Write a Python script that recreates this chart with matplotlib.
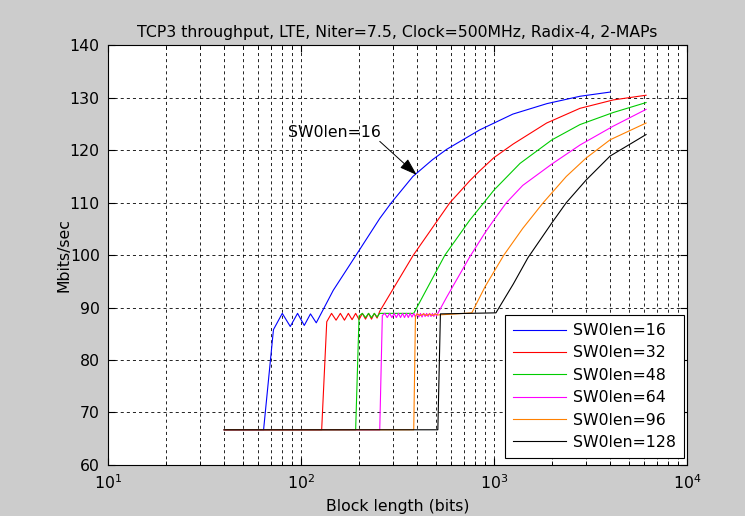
import matplotlib
matplotlib.use("Agg")
import matplotlib.pyplot as plt
from matplotlib.ticker import LogLocator

plt.rcParams['font.family'] = ['DejaVu Sans']
plt.rcParams['mathtext.default'] = 'regular'
plt.rcParams['lines.scale_dashes'] = False

FS = 11.3

# values (block length in bits, throughput in Mbits/sec)
x16 = [40, 64, 72, 80, 88, 96, 104, 112, 120, 147, 193, 256, 294, 380, 480, 570, 845,
       1253, 1883, 2791, 4000]
y16 = [66.7, 66.7, 85.8, 88.9, 86.4, 88.9, 86.6, 88.8, 87.1, 93.3, 100.0, 107.0, 110.0,
       115.0, 118.2, 120.2, 123.9, 126.9, 128.9, 130.3, 131.1]

x32 = [40, 128, 136, 144, 152, 160, 168, 176, 184, 192, 200, 208, 216, 224, 232, 240,
       248, 256, 382, 591, 750, 845, 1000, 1259, 1876, 2791, 4150, 6144]
y32 = [66.7, 66.7, 87.3, 88.9, 87.6, 88.9, 87.6, 88.9, 87.7, 88.9, 87.7, 88.9, 87.8,
       88.9, 87.8, 88.9, 88.0, 89.3, 100.0, 110.0, 114.2, 116.1, 118.6, 121.2, 125.2,
       128.0, 129.6, 130.5]

x48 = [40, 192, 200, 208, 216, 224, 232, 240, 248, 256, 272, 288, 304, 320, 336, 352,
       368, 384, 557, 750, 900, 1000, 1365, 2000, 2791, 4150, 6144]
y48 = [66.7, 66.7, 88.4, 88.9, 88.1, 88.9, 88.1, 88.9, 88.2, 88.9, 88.9, 88.9, 88.9,
       88.9, 88.9, 88.9, 88.9, 88.9, 100.0, 106.7, 110.3, 112.4, 117.5, 122.0, 124.9,
       127.2, 129.1]

x64 = [40, 256, 264, 272, 280, 288, 296, 304, 312, 320, 328, 336, 344, 352, 360, 368,
       376, 384, 392, 400, 408, 416, 424, 432, 440, 448, 456, 464, 472, 480, 488, 496,
       504, 512, 569, 750, 900, 990, 1160, 1410, 2000, 2791, 4150, 6144]
y64 = [66.7, 66.7, 88.5, 88.9, 88.1, 88.9, 88.1, 88.9, 88.1, 88.9, 88.1, 88.9, 88.1,
       88.9, 88.1, 88.9, 88.2, 88.9, 88.2, 88.9, 88.2, 88.9, 88.2, 88.9, 88.3, 88.9,
       88.3, 88.9, 88.3, 88.9, 88.3, 88.9, 88.4, 88.9, 92.0, 99.7, 104.3, 106.5, 110.0,
       113.3, 117.4, 121.0, 124.6, 127.8]

x96 = [40, 384, 392, 400, 416, 432, 448, 464, 480, 496, 512, 640, 768, 900, 1125, 1410,
       1800, 2370, 3000, 4000, 6144]
y96 = [66.7, 66.7, 88.4, 88.8, 88.5, 88.8, 88.5, 88.8, 88.5, 88.8, 88.6, 88.8, 89.0,
       94.0, 100.0, 105.1, 110.0, 115.0, 118.5, 122.0, 125.2]

x128 = [40, 512, 528, 1024, 1260, 1500, 2000, 2370, 3000, 4000, 6144]
y128 = [66.7, 66.7, 88.8, 89.0, 94.5, 99.5, 106.2, 110.0, 114.3, 118.9, 123.0]

series = [(x16, y16, '#0000ff', 'SW0len=16'),
          (x32, y32, '#ff0000', 'SW0len=32'),
          (x48, y48, '#00cc00', 'SW0len=48'),
          (x64, y64, '#ff00ff', 'SW0len=64'),
          (x96, y96, '#ff8000', 'SW0len=96'),
          (x128, y128, '#000000', 'SW0len=128')]

fig = plt.figure(figsize=(7.45, 5.16), dpi=100, facecolor='#cccccc')
ax = fig.add_axes([0.145, 0.099, 0.777, 0.813])
ax.set_facecolor('white')

for xs, ys, c, lab in series:
    ax.plot(xs, ys, color=c, lw=0.8, label=lab)

ax.set_xscale('log')
ax.set_xlim(10, 10000)
ax.set_ylim(60, 140)
ax.set_yticks(range(60, 141, 10))
ax.xaxis.set_minor_locator(LogLocator(base=10, subs=range(2, 10)))

ax.grid(True, which='both', axis='x', color='k', linestyle=(0, (2.2, 2.2)), lw=0.6)
ax.grid(True, which='major', axis='y', color='k', linestyle=(0, (2.2, 2.2)), lw=0.6)
ax.tick_params(which='both', direction='in', top=True, right=True, labelsize=FS,
               colors='k')
ax.tick_params(which='major', length=5, pad=6)
ax.tick_params(which='minor', length=3)
for s in ax.spines.values():
    s.set_linewidth(0.8)

ax.set_title('TCP3 throughput, LTE, Niter=7.5, Clock=500MHz, Radix-4, 2-MAPs',
             fontsize=FS, pad=6)
ax.set_xlabel('Block length (bits)', fontsize=FS, labelpad=5)
ax.set_ylabel('Mbits/sec', fontsize=FS, labelpad=-1.5)

ax.annotate('', xy=(398, 115.3), xytext=(256, 121.7),
            arrowprops=dict(arrowstyle='-|>,head_length=0.9,head_width=0.3',
                            color='k', lw=0.7, mutation_scale=12, shrinkA=0, shrinkB=0))
ax.text(86, 123.3, 'SW0len=16', fontsize=FS, ha='left', va='center')

leg = ax.legend(loc='lower right', bbox_to_anchor=(0.995, 0.017), borderaxespad=0,
                fontsize=FS, fancybox=False, edgecolor='k', framealpha=1,
                handlelength=3.4, handletextpad=0.45, labelspacing=0.47, borderpad=0.5)
leg.get_frame().set_linewidth(0.8)

fig.savefig('out.png', dpi=100, facecolor=fig.get_facecolor())
